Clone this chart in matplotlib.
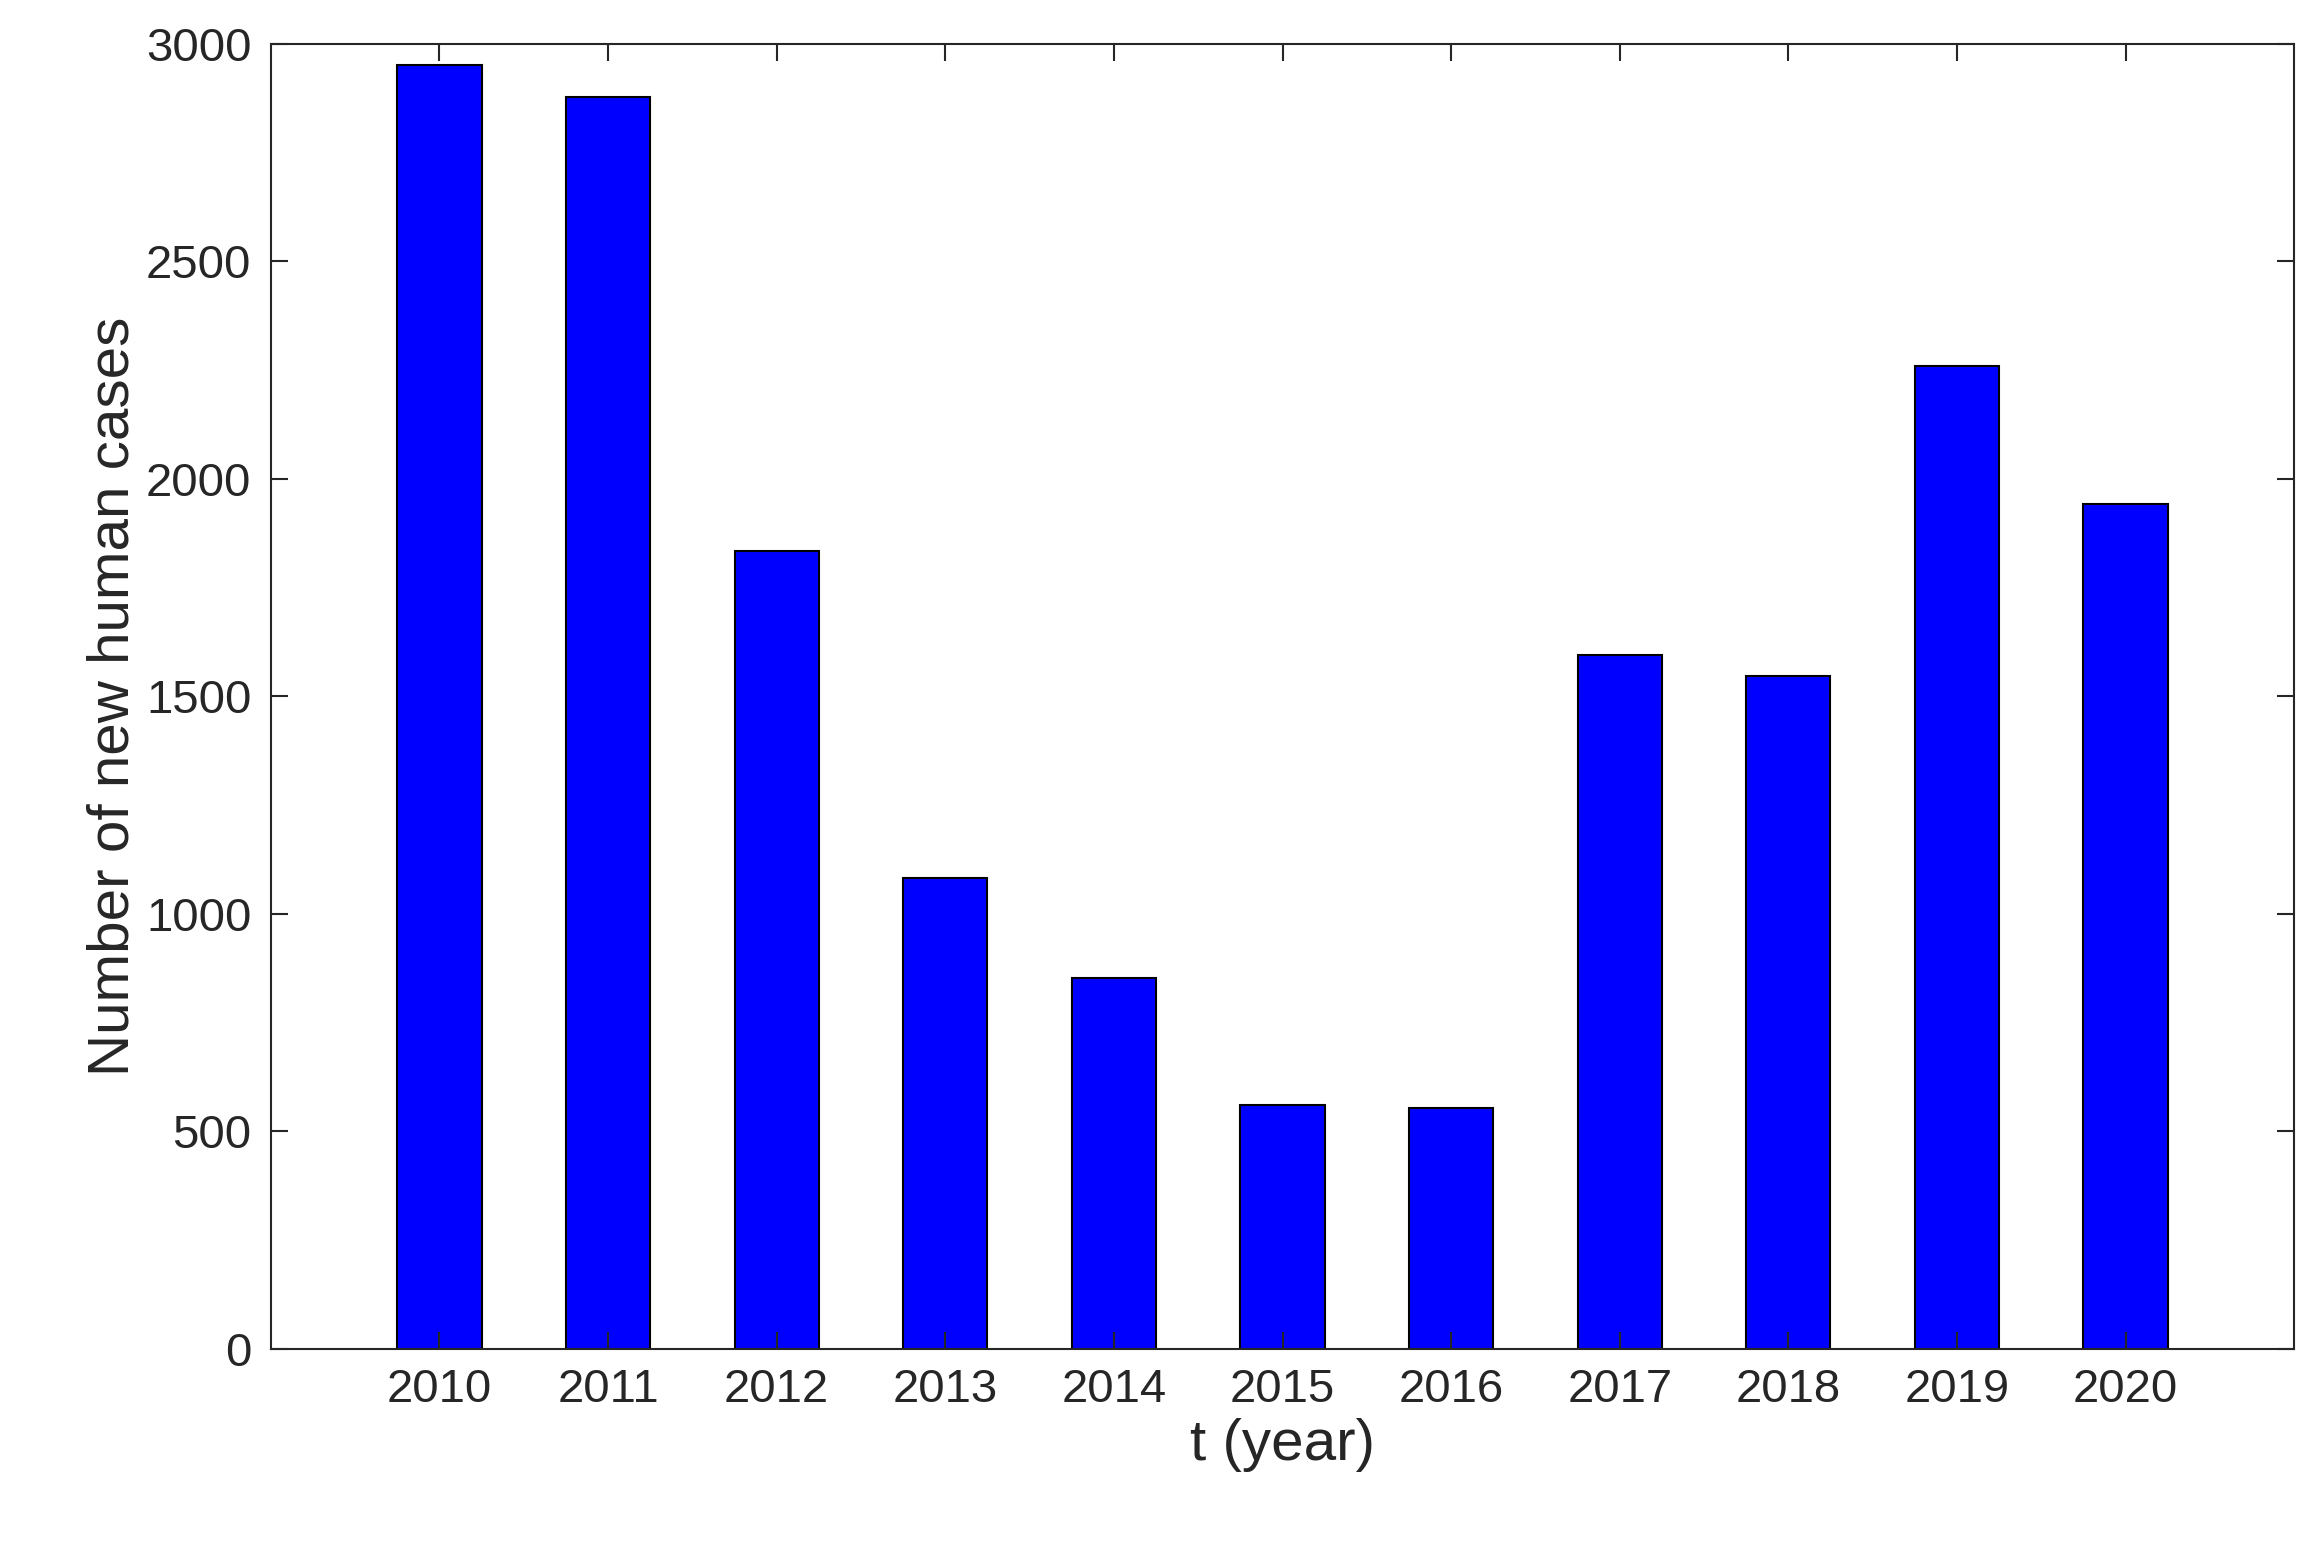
import numpy as np
from matplotlib import pyplot as plt

years = [2010, 2011, 2012, 2013, 2014, 2015, 2016, 2017, 2018, 2019, 2020]
cases = [2952, 2877, 1833, 1082, 853, 560, 553, 1594, 1546, 2259, 1942]

plt.rcParams['font.family'] = ['Liberation Sans', 'DejaVu Sans']
fig = plt.figure(figsize=(23.15, 15.63), dpi=100)
ax = fig.add_axes([0.117, 0.137, 0.874, 0.835])
ax.bar(years, cases, width=0.5, color='#0000ff', edgecolor='black', linewidth=1.5)
ax.set_xlim(2009, 2021)
ax.set_ylim(0, 3000)
ax.set_xticks(years)
ax.set_yticks(np.arange(0, 3001, 500))
ax.tick_params(direction='in', top=True, right=True, labelsize=34, length=12,
               width=1.5, colors='#262626', pad=14)
for s in ax.spines.values():
    s.set_linewidth(1.5)
    s.set_color('#262626')
ax.set_xlabel('t (year)', fontsize=42, color='#262626')
ax.set_ylabel('Number of new human cases', fontsize=42, color='#262626')
fig.savefig('out.png')
